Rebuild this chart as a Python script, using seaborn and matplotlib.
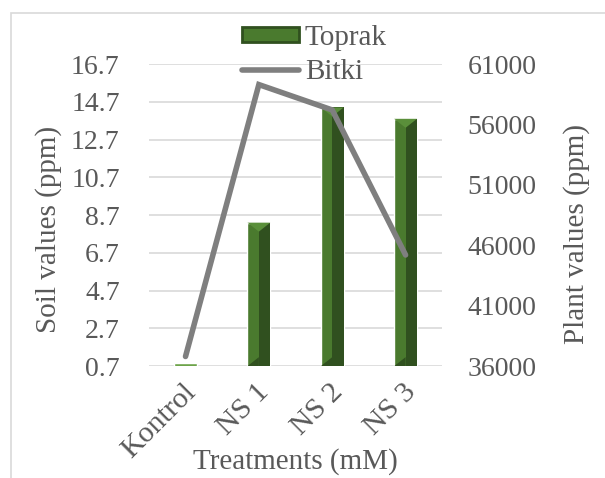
import numpy as np
import pandas as pd
import seaborn as sns
import matplotlib.pyplot as plt
import matplotlib.transforms as mtrans
from matplotlib.patches import Polygon, Rectangle, Patch
from matplotlib.lines import Line2D

# data
treatments = ['Kontrol', 'NS 1', 'NS 2', 'NS 3']
toprak = [0.85, 8.3, 14.4, 13.8]          # soil values (ppm)
bitki = [36800, 59300, 57200, 45200]      # plant values (ppm)
soil_ticks = [0.7, 2.7, 4.7, 6.7, 8.7, 10.7, 12.7, 14.7, 16.7]
plant_ticks = [36000, 41000, 46000, 51000, 56000, 61000]

sns.set_theme(style='white')
plt.rcParams['font.family'] = ['Liberation Serif', 'DejaVu Serif']
txt = '#595959'
light = '#4a7a2e'
dark = '#30501f'
top_c = '#5a8f3a'

df = pd.DataFrame({'Treatment': treatments, 'Toprak': toprak, 'Bitki': bitki})

fig = plt.figure(figsize=(6.05, 4.78), dpi=100)
ax = fig.add_axes([0.246, 0.234, 0.485, 0.632])
sns.barplot(data=df, x='Treatment', y='Toprak', color=light, width=0.31,
            saturation=1, ax=ax, zorder=2)
ax.set_ylim(0.7, 16.7)
ax.set_xlim(-0.5, 3.5)
ax.set_yticks(soil_ticks)
ax.set_yticklabels([f'{t:.1f}' for t in soil_ticks])

# bevel shading on each bar (taken from the bar patches)
ppx = 16.0 / (0.632 * 478)   # data units per pixel on y
for p in list(ax.patches):
    x0, w, h = p.get_x(), p.get_width(), p.get_height()
    if h - 0.7 < 1.0:
        p.set_facecolor('#6da34a')
        continue
    d = 9 * ppx
    ax.add_patch(Rectangle((x0 + w / 2, 0.7), w / 2, h - 0.7, color=dark, zorder=2.1, lw=0))
    ax.add_patch(Polygon([(x0, h), (x0 + w, h), (x0 + w / 2, h - d)], closed=True,
                         color=top_c, zorder=2.2, lw=0))
    ax.add_patch(Polygon([(x0, 0.7), (x0 + w / 2, 0.7 + d), (x0 + w / 2, 0.7)], closed=True,
                         color=dark, zorder=2.2, lw=0))

ax.grid(axis='y', color='#d9d9d9', lw=1.2, zorder=0)
ax.set_axisbelow(True)
for s in ax.spines.values():
    s.set_visible(False)
ax.tick_params(axis='y', length=0, labelsize=20, colors=txt, pad=21)
ax.tick_params(axis='x', length=0, labelsize=21.5, colors=txt, pad=9)
ax.set_xticks(range(len(treatments)))
ax.set_xticklabels(treatments, rotation=45, ha='right', rotation_mode='anchor')
shift = mtrans.ScaledTranslation(-2 / 72, 0, fig.dpi_scale_trans)
for lab in ax.get_xticklabels():
    lab.set_transform(lab.get_transform() + shift)
ax.set_ylabel('Soil values (ppm)', fontsize=21, color=txt)
ax.yaxis.set_label_coords(-0.297, 0.454)
ax.set_xlabel('Treatments (mM)', fontsize=21, color=txt)
ax.xaxis.set_label_coords(0.5, -0.27)

ax2 = ax.twinx()
sns.lineplot(x=range(len(treatments)), y=bitki, ax=ax2, color='#7f7f7f', lw=4,
             solid_capstyle='round', solid_joinstyle='miter', zorder=3)
ax2.set_ylim(36000, 61000)
ax2.set_yticks(plant_ticks)
ax2.set_yticklabels([str(t) for t in plant_ticks])
for s in ax2.spines.values():
    s.set_visible(False)
ax2.tick_params(axis='y', length=0, labelsize=20, colors=txt, pad=18)
ax2.set_ylabel('Plant values (ppm)', fontsize=21, color=txt)
ax2.yaxis.set_label_coords(1.413, 0.437)
ax2.grid(False)

handles = [Patch(facecolor=light, edgecolor=dark, lw=2),
           Line2D([0], [0], color='#7f7f7f', lw=4, solid_capstyle='round')]
fig.legend(handles, ['Toprak', 'Bitki'], loc='upper left', bbox_to_anchor=(0.4, 0.948),
           frameon=False, fontsize=21, labelcolor=txt, handlelength=1.95, handleheight=0.45,
           handletextpad=0.2, labelspacing=0.28, borderpad=0, borderaxespad=0)

fig.add_artist(Rectangle((0.018, -0.01), 1.0, 0.983, transform=fig.transFigure,
                         fill=False, edgecolor='#d9d9d9', lw=1.2))

fig.savefig('out.png', dpi=100)
